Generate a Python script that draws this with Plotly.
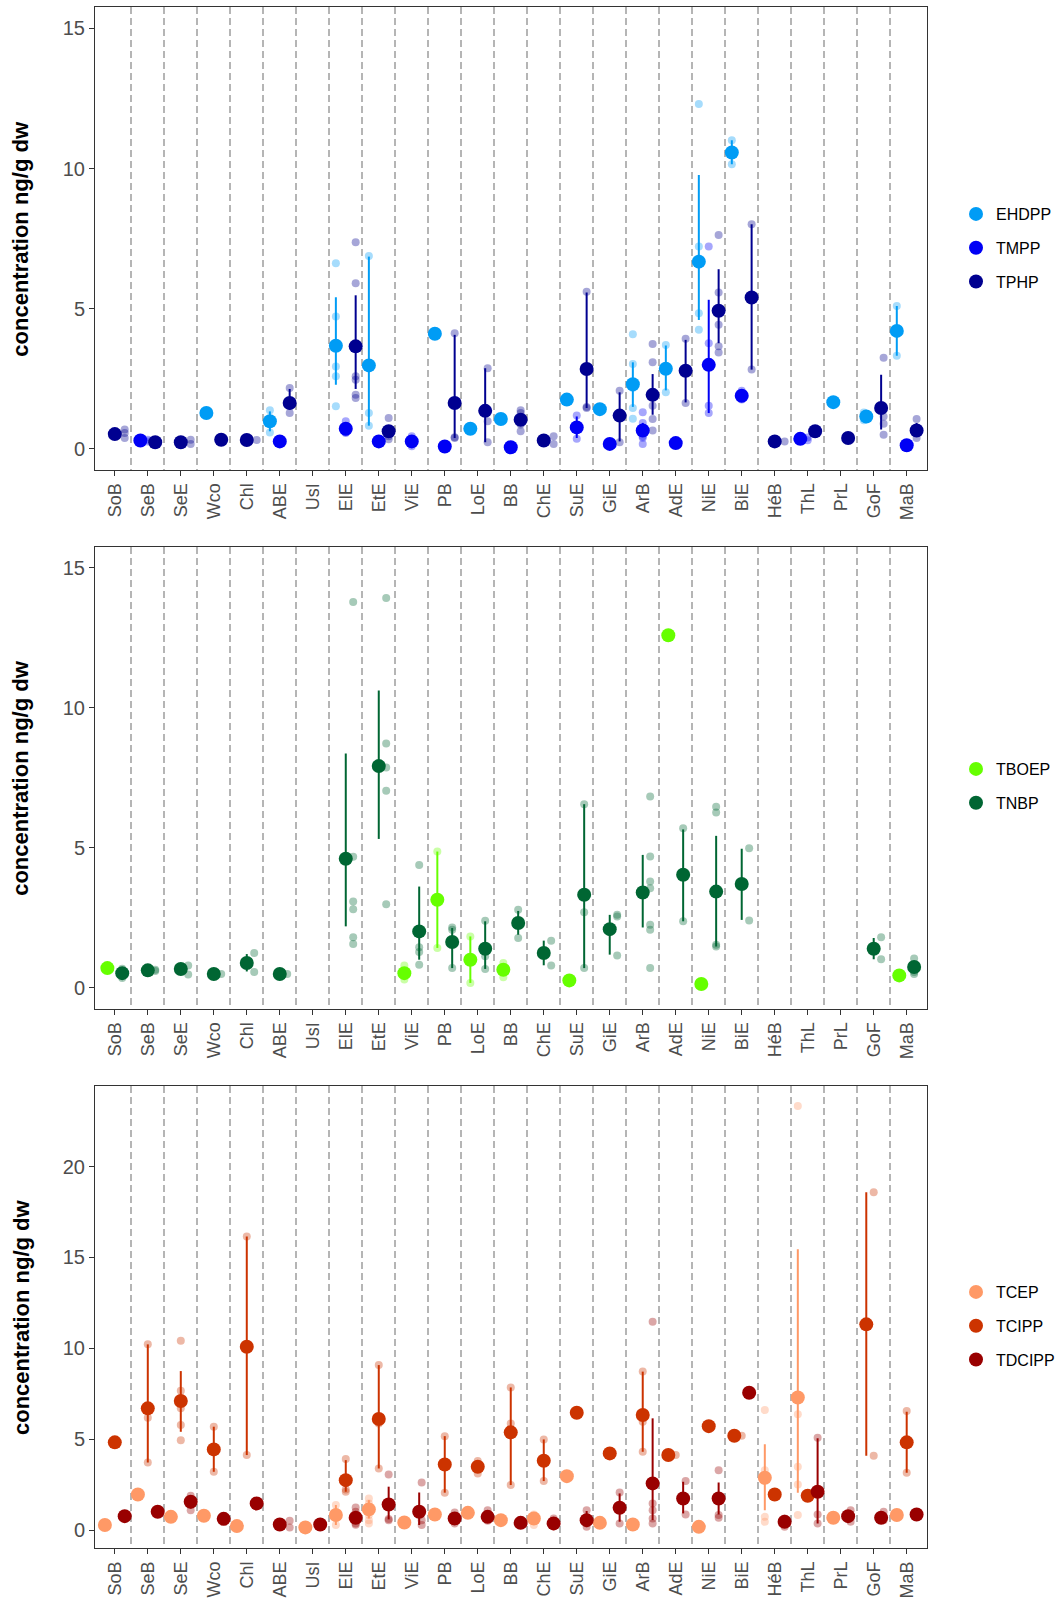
import plotly.graph_objects as go
from plotly.subplots import make_subplots

categories = ["SoB", "SeB", "SeE", "Wco", "Chl", "ABE", "UsI", "ElE", "EtE", "ViE",
              "PB", "LoE", "BB", "ChE", "SuE", "GiE", "ArB", "AdE", "NiE", "BiE",
              "HéB", "ThL", "PrL", "GoF", "MaB"]

# ---------------- Panel 1 ----------------
EHDPP_mean = {"Wco": 1.28, "ABE": 0.99, "ElE": 3.68, "EtE": 2.98, "PB": 4.11, "LoE": 0.72,
              "BB": 1.07, "SuE": 1.76, "GiE": 1.42, "ArB": 2.31, "AdE": 2.86, "NiE": 6.68,
              "BiE": 10.57, "PrL": 1.67, "GoF": 1.16, "MaB": 4.21}
EHDPP_range = {"ABE": (0.63, 1.34), "ElE": (2.29, 5.41), "EtE": (0.83, 6.86), "ArB": (1.50, 3.09),
               "AdE": (2.09, 3.69), "NiE": (4.60, 9.77), "BiE": (10.15, 11.01), "MaB": (3.32, 5.10)}
EHDPP_points = {"ABE": [1.38, 0.59], "ElE": [6.62, 4.72, 2.94, 2.59, 1.52], "EtE": [6.88, 1.28, 0.83],
                "ArB": [4.09, 3.03, 2.17, 1.46, 1.08], "AdE": [3.71, 2.02], "NiE": [12.30, 7.22, 4.84, 4.25],
                "BiE": [11.01, 10.15, 10.57], "GoF": [1.02, 1.30], "MaB": [5.10, 4.21, 3.32]}

TMPP_mean = {"SeB": 0.30, "ABE": 0.27, "ElE": 0.72, "EtE": 0.27, "ViE": 0.27, "PB": 0.09, "BB": 0.06,
             "SuE": 0.77, "GiE": 0.18, "ArB": 0.66, "AdE": 0.21, "NiE": 3.00, "BiE": 1.90,
             "ThL": 0.36, "MaB": 0.13}
TMPP_range = {"SuE": (0.39, 1.16), "ArB": (0.45, 0.93), "NiE": (1.28, 5.32)}
TMPP_points = {"SeB": [0.33, 0.27], "ElE": [0.99, 0.57, 0.60], "ViE": [0.45, 0.10], "SuE": [1.19, 0.36],
               "ArB": [1.31, 0.93, 0.45, 0.18, 0.40], "NiE": [7.22, 3.77, 1.54, 1.28],
               "BiE": [2.08, 1.76], "ThL": [0.31, 0.41]}

TPHP_mean = {"SoB": 0.53, "SeB": 0.24, "SeE": 0.24, "Wco": 0.33, "Chl": 0.32, "ABE": 1.64, "ElE": 3.66,
             "EtE": 0.63, "PB": 1.64, "LoE": 1.36, "BB": 1.04, "ChE": 0.30, "SuE": 2.85, "GiE": 1.19,
             "ArB": 1.93, "AdE": 2.79, "NiE": 4.93, "BiE": 5.40, "HéB": 0.27, "ThL": 0.63, "PrL": 0.39,
             "GoF": 1.46, "MaB": 0.66}
TPHP_range = {"ABE": (1.40, 2.14), "ElE": (2.14, 5.48), "PB": (0.39, 4.07), "LoE": (0.24, 2.88),
              "SuE": (1.46, 5.58), "GiE": (0.27, 2.02), "ArB": (1.22, 2.67), "AdE": (1.66, 3.89),
              "NiE": (3.77, 6.41), "BiE": (2.83, 8.01), "GoF": (0.69, 2.65), "MaB": (0.45, 0.93)}
TPHP_points = {"SoB": [0.69, 0.57, 0.39], "SeE": [0.33, 0.18], "ABE": [2.17, 1.28],
               "ElE": [7.37, 5.91, 2.59, 2.47, 1.93, 1.82], "EtE": [1.10, 0.45, 0.35],
               "PB": [4.13, 0.39, 0.42], "LoE": [2.88, 0.99, 0.24], "BB": [1.38, 1.28, 0.87, 0.63],
               "ChE": [0.45, 0.18], "SuE": [5.61, 1.46, 1.50], "GiE": [2.08, 0.24],
               "ArB": [3.74, 3.09, 1.54, 1.07, 0.66], "AdE": [3.93, 1.64],
               "NiE": [7.63, 5.58, 4.43, 3.66, 3.44], "BiE": [8.01, 2.83],
               "GoF": [3.25, 1.16, 0.90, 0.51], "MaB": [1.07, 0.39]}

# ---------------- Panel 2 ----------------
TBOEP_mean = {"SoB": 0.71, "ViE": 0.53, "PB": 3.15, "LoE": 1.01, "BB": 0.65, "SuE": 0.27,
              "AdE": 12.59, "NiE": 0.14, "MaB": 0.45}
TBOEP_range = {"PB": (1.43, 4.87), "LoE": (0.18, 1.84)}
TBOEP_points = {"ViE": [0.80, 0.30], "PB": [4.87, 1.43], "LoE": [1.84, 0.18], "BB": [0.89, 0.38]}

TNBP_mean = {"SoB": 0.53, "SeB": 0.63, "SeE": 0.68, "Wco": 0.50, "Chl": 0.89, "ABE": 0.50, "ElE": 4.61,
             "EtE": 7.92, "ViE": 2.02, "PB": 1.64, "LoE": 1.40, "BB": 2.32, "ChE": 1.25, "SuE": 3.33,
             "GiE": 2.10, "ArB": 3.41, "AdE": 4.04, "NiE": 3.44, "BiE": 3.71, "GoF": 1.40, "MaB": 0.75}
TNBP_range = {"Chl": (0.59, 1.21), "ElE": (2.20, 8.37), "EtE": (5.32, 10.62), "ViE": (1.01, 3.62),
              "PB": (0.71, 2.14), "LoE": (0.68, 2.38), "BB": (1.90, 2.75), "ChE": (0.81, 1.69),
              "SuE": (0.71, 6.56), "GiE": (1.19, 2.61), "ArB": (2.16, 4.75), "AdE": (2.38, 5.66),
              "NiE": (1.48, 5.43), "BiE": (2.43, 4.97), "GoF": (1.03, 1.78), "MaB": (0.59, 0.95)}
TNBP_points = {"SoB": [0.69, 0.36], "SeB": [0.65, 0.61], "SeE": [0.80, 0.48], "Chl": [1.25, 0.57],
               "ElE": [13.78, 4.68, 3.09, 2.81, 1.81, 1.57], "EtE": [13.92, 8.73, 7.87, 7.04, 2.99],
               "ViE": [4.39, 1.45, 1.28, 0.83], "PB": [2.16, 2.08, 0.71], "LoE": [2.40, 1.13, 0.68],
               "BB": [2.79, 1.78], "ChE": [1.69, 0.80], "SuE": [6.56, 2.70, 0.71], "GiE": [2.61, 2.55, 1.16],
               "ArB": [6.83, 4.69, 3.80, 3.56, 2.26, 2.08, 0.71], "AdE": [5.70, 2.38],
               "NiE": [6.47, 6.26, 1.54, 1.48], "BiE": [4.99, 2.41], "GoF": [1.81, 1.03],
               "MaB": [1.05, 0.50, 0.57]}

# ---------------- Panel 3 ----------------
TCEP_mean = {"SoB": 0.28, "SeB": 1.96, "SeE": 0.73, "Wco": 0.79, "Chl": 0.22, "UsI": 0.15, "ElE": 0.83,
             "EtE": 1.14, "ViE": 0.42, "PB": 0.86, "LoE": 0.95, "BB": 0.55, "ChE": 0.64, "SuE": 2.97,
             "GiE": 0.40, "ArB": 0.31, "NiE": 0.18, "HéB": 2.88, "ThL": 7.30, "PrL": 0.68, "MaB": 0.83}
TCEP_range = {"ElE": (0.28, 1.38), "EtE": (0.64, 1.65), "HéB": (1.10, 4.72), "ThL": (2.06, 15.45)}
TCEP_points = {"ElE": [1.38, 0.28, 0.83], "EtE": [1.74, 1.47, 0.83, 0.55, 0.37], "ChE": [0.86, 0.28],
               "HéB": [6.61, 3.30, 0.73, 0.46], "ThL": [23.34, 6.37, 3.49, 2.51, 0.83]}

TCIPP_mean = {"SoB": 4.83, "SeB": 6.70, "SeE": 7.10, "Wco": 4.44, "Chl": 10.09, "ElE": 2.75, "EtE": 6.11,
              "PB": 3.61, "LoE": 3.49, "BB": 5.38, "ChE": 3.82, "SuE": 6.46, "GiE": 4.22, "ArB": 6.33,
              "AdE": 4.13, "NiE": 5.72, "BiE": 5.19, "HéB": 1.96, "ThL": 1.89, "GoF": 11.32, "MaB": 4.83}
TCIPP_range = {"SeB": (3.72, 10.22), "SeE": (5.41, 8.75), "Wco": (3.21, 5.69), "Chl": (4.13, 16.15),
               "ElE": (2.11, 3.85), "EtE": (3.39, 9.08), "PB": (2.06, 5.17), "BB": (2.48, 7.85),
               "ChE": (2.70, 4.99), "ArB": (4.31, 8.72), "GoF": (4.09, 18.59), "MaB": (3.16, 6.51)}
TCIPP_points = {"SeB": [10.22, 6.18, 3.72], "SeE": [10.42, 7.67, 6.70, 5.78, 4.95], "Wco": [5.69, 3.21],
                "Chl": [16.15, 4.13], "ElE": [3.91, 2.11, 2.24], "EtE": [9.08, 5.87, 3.39],
                "PB": [5.17, 2.06], "LoE": [3.80, 3.12], "BB": [7.85, 5.87, 2.48], "ChE": [4.99, 2.70],
                "ArB": [8.72, 5.96, 4.31], "GoF": [18.59, 4.09], "MaB": [6.55, 3.16]}

TDCIPP_mean = {"SoB": 0.77, "SeB": 1.01, "SeE": 1.56, "Wco": 0.62, "Chl": 1.47, "ABE": 0.31, "UsI": 0.31,
               "ElE": 0.68, "EtE": 1.41, "ViE": 1.01, "PB": 0.64, "LoE": 0.73, "BB": 0.40, "ChE": 0.37,
               "SuE": 0.55, "GiE": 1.23, "ArB": 2.57, "AdE": 1.74, "NiE": 1.74, "BiE": 7.56, "HéB": 0.46,
               "ThL": 2.11, "PrL": 0.77, "GoF": 0.68, "MaB": 0.86}
TDCIPP_range = {"SeE": (1.19, 1.89), "ElE": (0.37, 1.01), "EtE": (0.59, 2.39), "ViE": (0.28, 2.07),
                "SuE": (0.18, 1.05), "GiE": (0.46, 2.02), "ArB": (0.55, 6.15), "AdE": (0.92, 2.66),
                "NiE": (0.86, 2.62), "ThL": (0.37, 5.05)}
TDCIPP_points = {"SeE": [1.89, 1.10, 1.65], "ABE": [0.51, 0.15], "ElE": [1.25, 1.01, 0.37, 0.30],
                 "EtE": [3.06, 0.61, 0.55], "ViE": [2.62, 0.55, 0.28], "PB": [0.97, 0.37],
                 "LoE": [1.10, 0.51], "ChE": [0.64, 0.20], "SuE": [1.10, 0.18, 0.37], "GiE": [2.07, 0.37],
                 "ArB": [11.47, 1.47, 1.10, 0.64, 0.37], "AdE": [2.70, 0.86], "NiE": [3.30, 0.83, 0.68],
                 "HéB": [0.64, 0.18], "ThL": [5.08, 0.86, 0.37], "PrL": [1.10, 0.46], "GoF": [1.01, 0.55]}

series_names = [["EHDPP", "TMPP", "TPHP"], ["TBOEP", "TNBP"], ["TCEP", "TCIPP", "TDCIPP"]]
series_colors = {"EHDPP": "#009CF5", "TMPP": "#0000F5", "TPHP": "#000090",
                 "TBOEP": "#66FF00", "TNBP": "#006633",
                 "TCEP": "#FF9966", "TCIPP": "#CC3300", "TDCIPP": "#990000"}
series_data = {
    "EHDPP": (EHDPP_mean, EHDPP_range, EHDPP_points),
    "TMPP": (TMPP_mean, TMPP_range, TMPP_points),
    "TPHP": (TPHP_mean, TPHP_range, TPHP_points),
    "TBOEP": (TBOEP_mean, TBOEP_range, TBOEP_points),
    "TNBP": (TNBP_mean, TNBP_range, TNBP_points),
    "TCEP": (TCEP_mean, TCEP_range, TCEP_points),
    "TCIPP": (TCIPP_mean, TCIPP_range, TCIPP_points),
    "TDCIPP": (TDCIPP_mean, TDCIPP_range, TDCIPP_points),
}
y_ranges = [[-0.75, 15.75], [-0.75, 15.75], [-1.0, 24.45]]
y_ticks = [[0, 5, 10, 15], [0, 5, 10, 15], [0, 5, 10, 15, 20]]

FONT = "Liberation Sans, Arial, sans-serif"
DODGE = 0.9


def dodge(k, n):
    return -DODGE / 2 + DODGE / (2 * n) + k * DODGE / n


fig = make_subplots(rows=3, cols=1)

H = 1605.0
W = 1063.0
panel_px = [(7.3, 470.0), (546.7, 1009.0), (1085.7, 1548.3)]
legend_centers = [248, 786, 1326]
legend_keys = ["legend", "legend2", "legend3"]

for p, names in enumerate(series_names):
    row = p + 1
    nser = len(names)
    for si, name in enumerate(names):
        means, ranges, points = series_data[name]
        col = series_colors[name]
        # individual observations (dodged over all series of the panel)
        px, py = [], []
        for ci, cat in enumerate(categories):
            if cat not in means:
                continue
            vals = points.get(cat, [means[cat]])
            for v in vals:
                px.append(ci + dodge(si, nser))
                py.append(v)
        fig.add_trace(go.Scatter(
            x=px, y=py, mode="markers",
            marker=dict(size=8, color=col, opacity=0.35, line=dict(width=0)),
            showlegend=False, hoverinfo="skip", legendgroup=name,
            legend=legend_keys[p]), row=row, col=1)
    for si, name in enumerate(names):
        means, ranges, points = series_data[name]
        col = series_colors[name]
        mx, my, eplus, eminus = [], [], [], []
        for ci, cat in enumerate(categories):
            if cat not in means:
                continue
            present = [n for n in names if cat in series_data[n][0]]
            k = present.index(name)
            mx.append(ci + dodge(k, len(present)))
            m = means[cat]
            my.append(m)
            lo, hi = ranges.get(cat, (m, m))
            eplus.append(hi - m)
            eminus.append(m - lo)
        fig.add_trace(go.Scatter(
            x=mx, y=my, mode="markers", name=name,
            marker=dict(size=14, color=col, line=dict(width=0)),
            error_y=dict(type="data", symmetric=False, array=eplus, arrayminus=eminus,
                         width=0, thickness=2, color=col),
            legendgroup=name, legend=legend_keys[p]), row=row, col=1)

    ax_suffix = "" if row == 1 else str(row)
    top, bot = panel_px[p]
    fig.layout["yaxis" + ax_suffix].update(
        domain=[1 - bot / H, 1 - top / H],
        range=y_ranges[p], tickvals=y_ticks[p], ticks="outside", ticklen=5,
        tickcolor="#333333", tickwidth=1, tickfont=dict(size=20, color="#4D4D4D", family=FONT),
        showgrid=False, zeroline=False, showline=True, mirror=True,
        linecolor="#333333", linewidth=1)
    fig.layout["xaxis" + ax_suffix].update(
        domain=[95.0 / W, 926.5 / W],
        range=[-0.6, len(categories) - 0.4],
        tickmode="array", tickvals=list(range(len(categories))), ticktext=categories,
        tickangle=-90, ticks="outside", ticklen=5, tickcolor="#333333", tickwidth=1,
        tickfont=dict(size=18, color="#4D4D4D", family=FONT),
        showgrid=False, zeroline=False, showline=True, mirror=True,
        linecolor="#333333", linewidth=1,
        minor=dict(tickmode="array", tickvals=[i + 0.5 for i in range(len(categories) - 1)],
                   showgrid=True, gridcolor="#B5B5B5", griddash="7px,4px", gridwidth=1.5,
                   ticks=""))
    fig.add_annotation(
        text="<b>concentration ng/g dw</b>", xref="paper", yref="paper",
        x=21 / W, y=1 - (top + bot) / 2 / H, xanchor="center", yanchor="middle",
        textangle=-90, showarrow=False, font=dict(size=22, color="black", family=FONT))
    fig.layout[legend_keys[p]] = dict(
        x=956 / W, y=1 - legend_centers[p] / H, xanchor="left", yanchor="middle",
        font=dict(size=16, color="black", family=FONT), bgcolor="rgba(0,0,0,0)",
        borderwidth=0, tracegroupgap=10, itemsizing="trace")

fig.update_layout(
    width=1063, height=1605, margin=dict(l=0, r=0, t=0, b=0),
    paper_bgcolor="white", plot_bgcolor="white",
    font=dict(family=FONT),
)

fig.write_html("out.html")
